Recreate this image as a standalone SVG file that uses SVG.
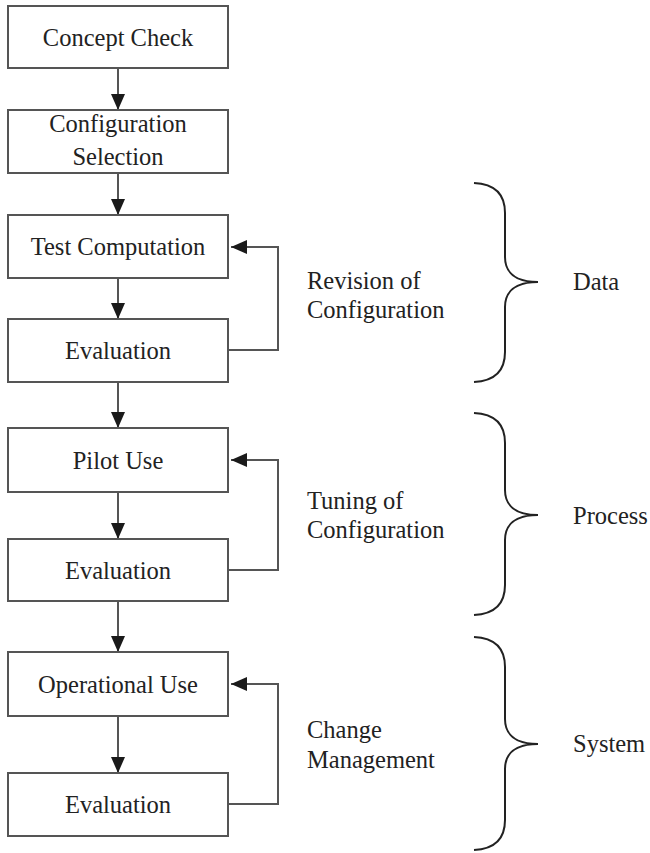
<svg xmlns="http://www.w3.org/2000/svg" width="650" height="853" viewBox="0 0 650 853">
<style>
.box{fill:#fff;stroke:#555;stroke-width:2}
.t{font-family:"Liberation Serif","Times New Roman",serif;font-size:24.5px;fill:#222}
.c{text-anchor:middle}
.con{fill:none;stroke:#555;stroke-width:2}
.br{fill:none;stroke:#222;stroke-width:2}
</style>
<defs>
<marker id="ah" markerUnits="userSpaceOnUse" markerWidth="16" markerHeight="14" refX="16" refY="7" orient="auto">
<path d="M0,0 L16,7 L0,14 z" fill="#1a1a1a"/>
</marker>
</defs>
<rect width="650" height="853" fill="#fff"/>
<g id="connectors">
<line class="con" x1="118" y1="68" x2="118" y2="110" marker-end="url(#ah)"/>
<line class="con" x1="118" y1="173" x2="118" y2="215" marker-end="url(#ah)"/>
<line class="con" x1="118" y1="278" x2="118" y2="319" marker-end="url(#ah)"/>
<line class="con" x1="118" y1="382" x2="118" y2="428" marker-end="url(#ah)"/>
<line class="con" x1="118" y1="492" x2="118" y2="539" marker-end="url(#ah)"/>
<line class="con" x1="118" y1="601" x2="118" y2="652" marker-end="url(#ah)"/>
<line class="con" x1="118" y1="716" x2="118" y2="773" marker-end="url(#ah)"/>
<polyline class="con" points="228,350 278,350 278,247 231,247" marker-end="url(#ah)"/>
<polyline class="con" points="228,570 278,570 278,460 231,460" marker-end="url(#ah)"/>
<polyline class="con" points="228,804 278,804 278,684 231,684" marker-end="url(#ah)"/>
</g>
<g id="n-concept"><rect class="box" x="8" y="6" width="220" height="62"/><text class="t c" x="118" y="46">Concept Check</text></g>
<g id="n-config"><rect class="box" x="8" y="110" width="220" height="63"/><text class="t c" x="118" y="132">Configuration</text><text class="t c" x="118" y="165">Selection</text></g>
<g id="n-test"><rect class="box" x="8" y="215" width="220" height="63"/><text class="t c" x="118" y="255">Test Computation</text></g>
<g id="n-eval1"><rect class="box" x="8" y="319" width="220" height="63"/><text class="t c" x="118" y="359">Evaluation</text></g>
<g id="n-pilot"><rect class="box" x="8" y="428" width="220" height="64"/><text class="t c" x="118" y="469">Pilot Use</text></g>
<g id="n-eval2"><rect class="box" x="8" y="539" width="220" height="62"/><text class="t c" x="118" y="579">Evaluation</text></g>
<g id="n-oper"><rect class="box" x="8" y="652" width="220" height="64"/><text class="t c" x="118" y="693">Operational Use</text></g>
<g id="n-eval3"><rect class="box" x="8" y="773" width="220" height="63"/><text class="t c" x="118" y="813">Evaluation</text></g>
<g id="l-revision"><text class="t" x="307" y="289">Revision of</text><text class="t" x="307" y="318">Configuration</text></g>
<g id="l-tuning"><text class="t" x="307" y="509">Tuning of</text><text class="t" x="307" y="538">Configuration</text></g>
<g id="l-change"><text class="t" x="307" y="738">Change</text><text class="t" x="307" y="768">Management</text></g>
<g id="b-data"><path class="br" d="M474,183 C495,184 505,195 505,213 L505,257 C505,272 515,282 538,282 C515,282 505,292 505,307 L505,352 C505,370 495,381 474,382"/><text class="t" x="573" y="290">Data</text></g>
<g id="b-process"><path class="br" d="M474,413 C495,414 505,425 505,443 L505,490 C505,505 515,515 538,515 C515,515 505,525 505,540 L505,585 C505,603 495,614 474,615"/><text class="t" x="573" y="524">Process</text></g>
<g id="b-system"><path class="br" d="M474,637 C495,638 505,649 505,667 L505,719 C505,734 515,744 538,744 C515,744 505,754 505,769 L505,820 C505,838 495,849 474,850"/><text class="t" x="573" y="752">System</text></g>
</svg>
